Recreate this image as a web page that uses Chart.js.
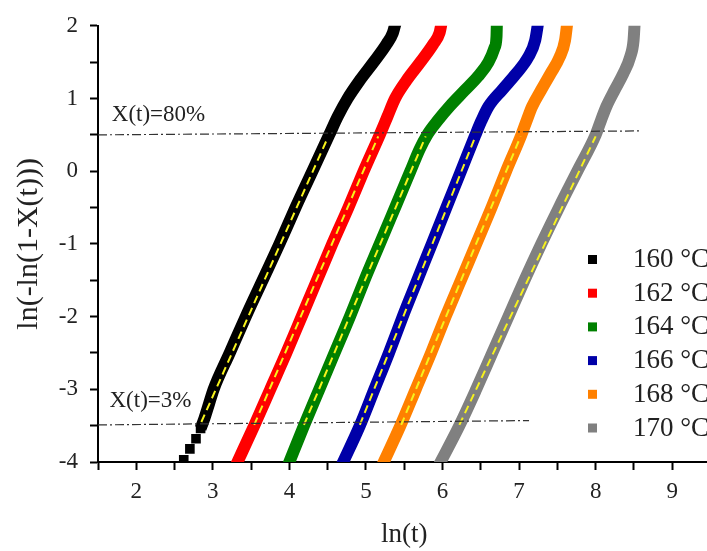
<!DOCTYPE html>
<html>
<head>
<meta charset="utf-8">
<script src="https://cdn.jsdelivr.net/npm/chart.js@4.4.1/dist/chart.umd.min.js"></script>
<style>
  html, body { margin: 0; padding: 0; background: #fff; overflow: hidden; width: 707px; height: 551px; }
  #wrap { position: absolute; left: 0; top: 0; width: 722px; height: 551px; }
</style>
</head>
<body>
<div id="wrap"><canvas id="avrami" width="722" height="551"></canvas></div>
<script>
// ln(t), ln(-ln(1-X(t))) pairs
const temps = [160, 162, 164, 166, 168, 170];
const colors = ['#000000', '#ff0000', '#008000', '#0000a8', '#ff8000', '#808080'];

const s160 = [[2.62,-3.97],[2.70,-3.82],[2.78,-3.68],[2.84,-3.54],[2.89,-3.40],[2.95,-3.2],[3.01,-3.0],[3.22,-2.5],
  [3.43,-2.0],[3.65,-1.5],[3.87,-1.0],[4.08,-0.5],[4.30,0.0],[4.52,0.5],[4.63,0.75],[4.76,1.0],[4.92,1.25],
  [5.10,1.5],[5.27,1.75],[5.35,1.9],[5.39,2.05]];
const s162 = [[3.30,-4.05],[3.54,-3.5],[3.75,-3.0],[3.96,-2.5],[4.16,-2.0],[4.36,-1.5],[4.56,-1.0],[4.77,-0.5],
  [4.97,0.0],[5.18,0.5],[5.28,0.75],[5.38,1.0],[5.53,1.25],[5.71,1.5],[5.88,1.75],[5.96,1.9],[5.99,2.05]];
const s164 = [[3.98,-4.05],[4.19,-3.5],[4.39,-3.0],[4.59,-2.5],[4.79,-2.0],[4.98,-1.5],[5.18,-1.0],[5.38,-0.5],
  [5.58,0.0],[5.70,0.3],[5.80,0.5],[5.94,0.7],[6.10,0.9],[6.28,1.1],[6.46,1.3],[6.60,1.5],[6.68,1.7],
  [6.705,1.85],[6.71,2.05]];
const s166 = [[4.68,-4.05],[4.92,-3.5],[5.11,-3.0],[5.30,-2.5],[5.48,-2.0],[5.67,-1.5],[5.86,-1.0],[6.05,-0.5],
  [6.24,0.0],[6.43,0.5],[6.51,0.7],[6.60,0.89],[6.78,1.12],[6.96,1.34],[7.12,1.57],[7.21,1.80],[7.25,2.05]];
const s168 = [[5.21,-4.05],[5.45,-3.5],[5.65,-3.0],[5.85,-2.5],[6.04,-2.0],[6.24,-1.5],[6.44,-1.0],[6.64,-0.5],
  [6.83,0.0],[7.03,0.5],[7.10,0.7],[7.17,0.89],[7.29,1.12],[7.41,1.34],[7.53,1.57],[7.60,1.80],[7.63,2.05]];
const s170 = [[5.95,-4.05],[6.22,-3.5],[6.44,-3.0],[6.65,-2.5],[6.86,-2.0],[7.07,-1.5],[7.29,-1.0],[7.52,-0.5],
  [7.76,0.0],[8.00,0.5],[8.07,0.7],[8.14,0.89],[8.25,1.12],[8.36,1.34],[8.45,1.57],[8.495,1.80],[8.51,2.05]];
const series = [s160, s162, s164, s166, s168, s170];

// linear fits between X(t)=3% and X(t)=80%
const fits = [
  [[2.85,-3.45],[4.50,0.46]],
  [[3.54,-3.49],[5.16,0.48]],
  [[4.19,-3.49],[5.78,0.48]],
  [[4.92,-3.49],[6.43,0.48]],
  [[5.46,-3.49],[7.02,0.48]],
  [[6.22,-3.49],[8.00,0.48]]
];

// reference levels (slightly tilted in the original)
const line80 = [[1.5,0.50],[8.58,0.554]];
const line3 = [[1.5,-3.49],[7.13,-3.43]];
const refLabels = [
  { text: 'X(t)=80%', at: [1.68, 0.69] },
  { text: 'X(t)=3%', at: [1.65, -3.25] }
];

const xTicks = [2, 3, 4, 5, 6, 7, 8, 9];
const yTicks = [-4, -3, -2, -1, 0, 1, 2];

const serif = '"Liberation Serif", "Times New Roman", serif';
const toXY = arr => arr.map(p => ({ x: p[0], y: p[1] }));

const datasets = [];
series.forEach((s, i) => {
  const isBlack = i === 0;
  datasets.push({
    label: temps[i] + ' °C',
    data: toXY(s),
    borderColor: colors[i],
    backgroundColor: colors[i],
    borderWidth: 12,
    borderCapStyle: 'butt',
    borderJoinStyle: 'round',
    cubicInterpolationMode: 'monotone',
    pointStyle: 'rect',
    pointRadius: isBlack ? (c => c.dataIndex < 4 ? 6.8 : 0) : 0,
    pointBorderWidth: 0,
    pointBackgroundColor: colors[i],
    segment: isBlack ? { borderColor: c => c.p0DataIndex < 3 ? 'rgba(0,0,0,0)' : undefined } : undefined,
    clip: 0,
    order: 3
  });
});
fits.forEach(f => {
  datasets.push({
    data: toXY(f),
    borderColor: '#f6f21c',
    borderWidth: 2,
    borderDash: [8, 5],
    pointRadius: 0,
    order: 2
  });
});
[line80, line3].forEach(l => {
  datasets.push({
    data: toXY(l),
    borderColor: '#333',
    borderWidth: 1.2,
    borderDash: [9, 3, 2, 3],
    pointRadius: 0,
    order: 1
  });
});

const overlay = {
  id: 'overlay',
  afterDatasetsDraw(chart) {
    const { ctx, scales: { x, y } } = chart;
    ctx.save();
    ctx.fillStyle = '#222';
    ctx.font = '23px ' + serif;
    ctx.textBaseline = 'alphabetic';
    refLabels.forEach(r => {
      ctx.fillText(r.text, x.getPixelForValue(r.at[0]), y.getPixelForValue(r.at[1]));
    });
    // legend
    ctx.font = '27px ' + serif;
    temps.forEach((t, i) => {
      const cy = 259.5 + i * 33.7;
      ctx.fillStyle = colors[i];
      ctx.fillRect(588, cy - 4.5, 9, 9);
      ctx.fillStyle = '#222';
      ctx.fillText(t + ' °C', 633, cy + 7.5);
    });
    ctx.restore();
  }
};

const isMajor = (v, list) => list.some(t => Math.abs(t - v) < 1e-6);

new Chart(document.getElementById('avrami'), {
  type: 'line',
  data: { datasets },
  plugins: [overlay],
  options: {
    responsive: false,
    devicePixelRatio: 1,
    animation: false,
    layout: { padding: { left: 11, top: 18, right: 11.5, bottom: 0 } },
    plugins: { legend: { display: false }, tooltip: { enabled: false } },
    scales: {
      x: {
        type: 'linear',
        min: 1.5,
        max: 9.5,
        afterFit: s => { s.height = 89; },
        ticks: {
          stepSize: 0.5,
          autoSkip: false,
          maxRotation: 0,
          padding: 8,
          color: '#222',
          font: { family: serif, size: 23 },
          callback: v => isMajor(v, xTicks) ? Math.round(v) : ''
        },
        grid: { drawOnChartArea: false, drawTicks: true, tickLength: 8, tickColor: '#000', tickWidth: 2 },
        border: { color: '#000', width: 2 },
        title: { display: true, text: 'ln(t)', color: '#222', font: { family: serif, size: 27 }, padding: 0 }
      },
      y: {
        type: 'linear',
        min: -4,
        max: 2,
        afterFit: s => { s.width = 87; },
        ticks: {
          stepSize: 0.5,
          autoSkip: false,
          padding: 12,
          color: '#222',
          font: { family: serif, size: 23 },
          callback: v => isMajor(v, yTicks) ? Math.round(v) : ''
        },
        grid: { drawOnChartArea: false, drawTicks: true, tickLength: 8, tickColor: '#000', tickWidth: 2 },
        border: { color: '#000', width: 2 },
        title: { display: true, text: 'ln(-ln(1-X(t)))', color: '#222', font: { family: serif, size: 30 }, padding: 0 }
      }
    }
  }
});
</script>
</body>
</html>
